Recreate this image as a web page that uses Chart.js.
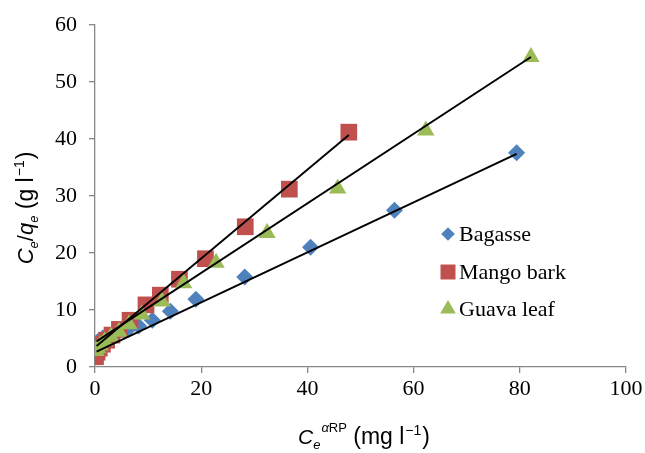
<!DOCTYPE html>
<html>
<head>
<meta charset="utf-8">
<script src="https://cdn.jsdelivr.net/npm/chart.js@4.4.0/dist/chart.umd.min.js"></script>
<style>
  body { margin: 0; background: #fff; }
</style>
</head>
<body>
<canvas id="chart" width="645" height="453"></canvas>
<script>
// Values ---------------------------------------------------------------
const bagasseX = [0.3, 0.8, 1.5, 2.6, 4.2, 6.2, 8.2, 10.8, 14.2, 19.0, 28.2, 40.6, 56.4, 79.4]
const bagasseY = [4.2, 4.7, 5.1, 5.5, 6.0, 6.6, 7.2, 8.2, 9.8, 11.9, 15.8, 21.0, 27.5, 37.6]

const mangoX = [0.1, 0.4, 0.8, 1.4, 2.2, 3.2, 4.6, 6.6, 9.6, 12.3, 15.9, 20.8, 28.3, 36.6, 47.8]
const mangoY = [1.8, 2.6, 3.3, 4.0, 4.7, 5.6, 6.6, 8.2, 10.9, 12.6, 15.4, 19.0, 24.6, 31.2, 41.2]

const guavaX = [0.2, 0.5, 1.0, 1.8, 3.0, 4.5, 6.4, 8.8, 12.6, 16.7, 22.8, 32.4, 45.7, 62.3, 82.1]
const guavaY = [2.8, 3.3, 3.8, 4.5, 5.3, 6.2, 7.5, 9.2, 11.5, 14.7, 18.3, 23.5, 31.3, 41.5, 54.4]

// trend line end points, as drawn
const bagasseFitX = [0.3, 79.4]
const bagasseFitY = [2.7, 37.4]
const mangoFitX = [0.3, 47.8]
const mangoFitY = [3.7, 40.7]
const guavaFitX = [0.3, 82.1]
const guavaFitY = [4.5, 54.4]

const xTicks = [0, 20, 40, 60, 80, 100]
const yTicks = [0, 10, 20, 30, 40, 50, 60]

const seriesNames = ['Bagasse', 'Mango bark', 'Guava leaf']
const seriesColors = ['#4F81BD', '#C0504D', '#9BBB59']
const seriesShapes = ['rectRot', 'rect', 'triangle']

const toPoints = (xs, ys) => xs.map((x, i) => ({ x: x, y: ys[i] }))

const AXIS = '#868686'
const SERIF = '"Liberation Serif", "Times New Roman", serif'
const SANS = '"Liberation Sans", Arial, sans-serif'

// little helper for titles with sub/superscripts --------------------------
function drawRich(ctx, parts, cx, baseY, rotate) {
    ctx.save()
    ctx.translate(cx, baseY)
    if (rotate) ctx.rotate(-Math.PI / 2)
    let total = 0
    parts.forEach(p => {
        ctx.font = p.font
        p.w = ctx.measureText(p.text).width
        p.start = total + (p.gap || 0)
        total = p.start + p.w
    })
    ctx.fillStyle = '#000'
    ctx.textBaseline = 'alphabetic'
    ctx.textAlign = 'left'
    parts.forEach(p => {
        ctx.font = p.font
        ctx.fillText(p.text, p.start - total / 2, p.dy || 0)
    })
    ctx.restore()
}

function drawShape(ctx, shape, x, y, r, color) {
    ctx.save()
    ctx.fillStyle = color
    ctx.beginPath()
    if (shape === 'rectRot') {
        ctx.moveTo(x - r, y)
        ctx.lineTo(x, y - r)
        ctx.lineTo(x + r, y)
        ctx.lineTo(x, y + r)
    } else if (shape === 'rect') {
        const s = r * Math.SQRT1_2
        ctx.rect(x - s, y - s, 2 * s, 2 * s)
    } else {
        ctx.moveTo(x, y - r)
        ctx.lineTo(x + r * 0.866, y + r * 0.5)
        ctx.lineTo(x - r * 0.866, y + r * 0.5)
    }
    ctx.closePath()
    ctx.fill()
    ctx.restore()
}

const titlesAndLegend = {
    id: 'titlesAndLegend',
    afterDraw(chart) {
        const ctx = chart.ctx

        // x axis title
        drawRich(ctx, [
            { text: 'C', font: 'italic 21px ' + SANS },
            { text: 'e', font: 'italic 13px ' + SANS, dy: 5 },
            { text: '\u03B1', font: 'italic 13px ' + SANS, dy: -12, gap: 1 },
            { text: 'RP', font: '13px ' + SANS, dy: -12 },
            { text: ' (mg l', font: '23px ' + SANS },
            { text: '\u22121', font: '14px ' + SANS, dy: -9, gap: 1 },
            { text: ')', font: '23px ' + SANS, gap: 1 }
        ], 364, 444, false)

        // y axis title
        drawRich(ctx, [
            { text: 'C', font: 'italic 22px ' + SANS },
            { text: 'e', font: 'italic 13px ' + SANS, dy: 5 },
            { text: '/', font: '22px ' + SANS },
            { text: 'q', font: 'italic 22px ' + SANS },
            { text: 'e', font: 'italic 13px ' + SANS, dy: 5 },
            { text: ' (g l', font: '23px ' + SANS },
            { text: '\u22121', font: '14px ' + SANS, dy: -9, gap: 1 },
            { text: ')', font: '23px ' + SANS, gap: 1 }
        ], 33, 208, true)

        // legend inside the plot
        const legendY = [234, 272, 309]
        const legendR = [6.8, 10.6, 9]
        ctx.save()
        ctx.font = '22px ' + SERIF
        ctx.fillStyle = '#000'
        ctx.textBaseline = 'middle'
        seriesNames.forEach((name, i) => {
            drawShape(ctx, seriesShapes[i], 448, legendY[i], legendR[i], seriesColors[i])
            ctx.fillText(name, 459, legendY[i] + 1)
        })
        ctx.restore()
    }
}

const fitLine = (xs, ys) => ({
    type: 'line',
    data: toPoints(xs, ys),
    borderColor: '#000',
    borderWidth: 1.9,
    pointRadius: 0,
    showLine: true,
    fill: false,
    order: 0
})

const pointSet = (i, xs, ys, r, order) => ({
    label: seriesNames[i],
    data: toPoints(xs, ys),
    backgroundColor: seriesColors[i],
    borderColor: seriesColors[i],
    borderWidth: 0,
    pointStyle: seriesShapes[i],
    pointRadius: r,
    pointHoverRadius: r,
    showLine: false,
    order: order
})

const ctx = document.getElementById('chart').getContext('2d')
const chart = new Chart(ctx, {
    type: 'scatter',
    data: {
        datasets: [
            fitLine(bagasseFitX, bagasseFitY),
            fitLine(mangoFitX, mangoFitY),
            fitLine(guavaFitX, guavaFitY),
            pointSet(0, bagasseX, bagasseY, 8.5, 3),
            pointSet(1, mangoX, mangoY, 11.8, 2),
            pointSet(2, guavaX, guavaY, 10, 1)
        ]
    },
    options: {
        responsive: false,
        animation: false,
        layout: { padding: { top: 25, right: 19, left: 0, bottom: 0 } },
        plugins: {
            legend: { display: false },
            tooltip: { enabled: false }
        },
        scales: {
            x: {
                type: 'linear',
                min: 0,
                max: 100,
                afterBuildTicks: axis => { axis.ticks = xTicks.map(v => ({ value: v })) },
                afterFit: axis => {
                    axis.height = 86
                    axis.paddingLeft = 0
                    axis.paddingRight = 0
                },
                border: { color: AXIS, width: 1.3 },
                grid: { drawOnChartArea: false, color: AXIS, tickLength: 6, lineWidth: 1.3 },
                ticks: { color: '#000', font: { family: SERIF, size: 22 }, padding: 3, maxRotation: 0 }
            },
            y: {
                type: 'linear',
                min: 0,
                max: 60,
                afterBuildTicks: axis => { axis.ticks = yTicks.map(v => ({ value: v })) },
                afterFit: axis => {
                    axis.width = 95
                    axis.paddingTop = 0
                    axis.paddingBottom = 0
                },
                border: { color: AXIS, width: 1.3 },
                grid: { drawOnChartArea: false, color: AXIS, tickLength: 6, lineWidth: 1.3 },
                ticks: { color: '#000', font: { family: SERIF, size: 22 }, padding: 12 }
            }
        }
    },
    plugins: [titlesAndLegend]
})
</script>
</body>
</html>
